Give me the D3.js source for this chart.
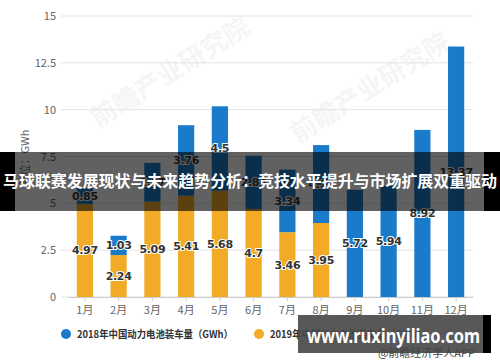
<!DOCTYPE html>
<html><head><meta charset="utf-8">
<script src="https://cdn.jsdelivr.net/npm/d3@7/dist/d3.min.js"></script>
<style>body{margin:0;background:#fff;}svg{display:block;font-family:"Noto Sans CJK SC","Noto Sans",sans-serif;}</style>
</head><body><svg id="c" width="500" height="362"></svg>
<script>
const months = ["1月","2月","3月","4月","5月","6月","7月","8月","9月","10月","11月","12月"];
const v2019 = [4.97,2.24,5.09,5.41,5.68,4.7,3.46,3.95,null,null,null,null];
const v2018 = [0.85,1.03,2.07,3.76,4.5,2.84,3.34,4.16,5.72,5.94,8.92,13.37];
const yTicks = [0,2.5,5,7.5,10,12.5,15];
const seriesNames = ["2018年中国动力电池装车量（GWh）","2019年中国动力电池装车量（GWh）"];
const colors = ["#1b7bcb","#f1ab27"];
const title = "马球联赛发展现状与未来趋势分析：竞技水平提升与市场扩展双重驱动";

const svg = d3.select("#c");
const x = d3.scaleBand().domain(months).range([68,473]).paddingInner(0.52).paddingOuter(0.26);
const y = d3.scaleLinear().domain([0,15]).range([297,16]);

// watermarks
[[175,80],[375,95]].forEach(([cx,cy])=>{
  svg.append("text").attr("transform",`translate(${cx},${cy}) rotate(-32)`)
    .attr("text-anchor","middle").attr("font-size",26).attr("font-weight","bold")
    .attr("fill","#000").attr("opacity",0.035).text("前瞻产业研究院");
});

// grid
svg.append("g").selectAll("line").data(yTicks).join("line")
  .attr("x1",61).attr("x2",473).attr("y1",d=>y(d)).attr("y2",d=>y(d))
  .attr("stroke","#e3e3e3").attr("stroke-width",1);
svg.append("g").selectAll("text").data(yTicks).join("text")
  .attr("x",56).attr("y",d=>y(d)+4).attr("text-anchor","end")
  .attr("font-size",11).attr("fill","#666").text(d=>d);
svg.append("text").attr("transform","translate(29,158) rotate(-90)")
  .attr("text-anchor","middle").attr("font-size",11).attr("fill","#666").text("单位：GWh");

// x axis
const xa = svg.append("g").attr("transform","translate(0,297)")
  .call(d3.axisBottom(x).tickSize(4).tickSizeOuter(0));
xa.select(".domain").attr("stroke","#ccc");
xa.selectAll(".tick line").attr("stroke","#ccc");
xa.selectAll(".tick text").attr("font-size",11).attr("fill","#666").attr("dy","0.9em")
  .attr("font-family","'Noto Sans CJK SC',sans-serif");

// bars
const data = months.map((m,i)=>({m,a:v2019[i]||0,b:v2018[i]}));
svg.append("g").selectAll("rect").data(data.filter(d=>d.a>0)).join("rect")
  .attr("x",d=>x(d.m)).attr("width",x.bandwidth())
  .attr("y",d=>y(d.a)).attr("height",d=>y(0)-y(d.a)).attr("fill",colors[1]);
svg.append("g").selectAll("rect").data(data).join("rect")
  .attr("x",d=>x(d.m)).attr("width",x.bandwidth())
  .attr("y",d=>y(d.a+d.b)).attr("height",d=>y(d.a)-y(d.a+d.b)).attr("fill",colors[0]);

// labels
const lab = [];
data.forEach(d=>{
  if(d.a>0) lab.push({x:x(d.m)+x.bandwidth()/2, y:y(d.a/2), t:d.a});
  lab.push({x:x(d.m)+x.bandwidth()/2, y:y(d.a+d.b/2), t:d.b});
});
svg.append("g").selectAll("text").data(lab).join("text")
  .attr("x",d=>d.x).attr("y",d=>d.y+4).attr("text-anchor","middle")
  .attr("font-size",11).attr("font-weight","bold").attr("fill","#333")
  .attr("stroke","#fff").attr("stroke-width",2).attr("paint-order","stroke")
  .attr("font-family","'DejaVu Sans',sans-serif").attr("letter-spacing","-0.3")
  .text(d=>d.t);

// legend
const lg = [[66,seriesNames[0],colors[0]],[259,seriesNames[1],colors[1]]];
lg.forEach(([lx,t,c])=>{
  svg.append("circle").attr("cx",lx).attr("cy",334).attr("r",5).attr("fill",c);
  svg.append("text").attr("x",lx+11).attr("y",338).attr("font-size",10.5)
    .attr("font-weight","bold").attr("fill","#333")
    .attr("textLength",156).attr("lengthAdjust","spacingAndGlyphs").text(t);
});

// overlay title banner
svg.append("rect").attr("x",0).attr("y",152).attr("width",500).attr("height",59).attr("fill","rgba(0,0,0,0.62)");
svg.append("rect").attr("x",0).attr("y",152).attr("width",15).attr("height",59).attr("fill","#000");
svg.append("rect").attr("x",484).attr("y",152).attr("width",16).attr("height",59).attr("fill","#000");
svg.append("text").attr("x",250).attr("y",187).attr("text-anchor","middle")
  .attr("font-size",16).attr("font-weight","bold").attr("fill","#fff")
  .attr("textLength",494).attr("lengthAdjust","spacingAndGlyphs").text(title);

// bottom banner
svg.append("rect").attr("x",298).attr("y",315).attr("width",193).attr("height",38).attr("fill","rgba(70,70,70,0.9)");
svg.append("rect").attr("x",483).attr("y",315).attr("width",8).attr("height",38).attr("fill","#000");
svg.append("text").attr("x",307).attr("y",343)
  .attr("font-size",20).attr("font-weight","bold").attr("fill","#fff")
  .attr("textLength",173).attr("lengthAdjust","spacingAndGlyphs")
  .attr("font-family","'Noto Sans','DejaVu Sans',sans-serif").text("www.ruxinyiliao.com");
svg.append("text").attr("x",475).attr("y",357).attr("text-anchor","end")
  .attr("font-size",11).attr("fill","#444").text("@前瞻经济学人APP");
</script></body></html>
